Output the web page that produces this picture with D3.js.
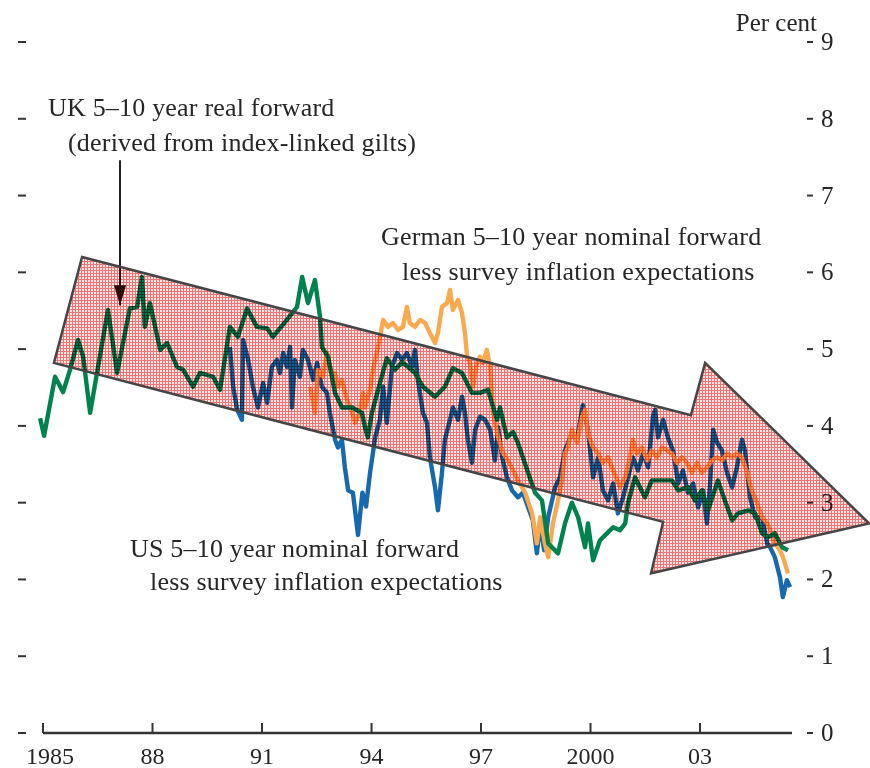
<!DOCTYPE html>
<html>
<head>
<meta charset="utf-8">
<script src="https://cdn.jsdelivr.net/npm/d3@7"></script>
<style>
  body { margin: 0; background: #fff; }
  svg { display: block; }
  .lbl { font-family: "Liberation Serif", "DejaVu Serif", serif; fill: #262626; }
</style>
</head>
<body>
<svg id="chart" width="870" height="768"></svg>
<script>
// chart data: [year, per cent]
var yTicks = [0, 1, 2, 3, 4, 5, 6, 7, 8, 9];
var xTickYears = [1985, 1988, 1991, 1994, 1997, 2000, 2003];
var xTickLabels = ["1985", "88", "91", "94", "97", "2000", "03"];

// UK 5-10 year real forward (index-linked gilts)
var ukData = [
  [1984.92, 4.10], [1985.03, 3.87], [1985.33, 4.64], [1985.55, 4.44], [1985.74, 4.73],
  [1985.96, 5.12], [1986.10, 4.90], [1986.29, 4.17], [1986.48, 4.69], [1986.78, 5.51],
  [1987.03, 4.69], [1987.38, 5.53], [1987.58, 5.55], [1987.71, 5.94], [1987.79, 5.29],
  [1987.93, 5.60], [1988.21, 4.99], [1988.40, 5.08], [1988.67, 4.77], [1988.84, 4.73],
  [1989.11, 4.51], [1989.30, 4.69], [1989.66, 4.64], [1989.85, 4.47], [1990.12, 5.29],
  [1990.34, 5.16], [1990.59, 5.53], [1990.86, 5.29], [1991.14, 5.27], [1991.30, 5.16],
  [1991.68, 5.38], [1991.96, 5.55], [1992.10, 5.94], [1992.26, 5.60], [1992.45, 5.90],
  [1992.59, 5.42], [1992.64, 5.03], [1992.81, 4.90], [1993.00, 4.43], [1993.19, 4.24],
  [1993.47, 4.24], [1993.74, 4.17], [1993.82, 3.98], [1993.90, 3.85], [1994.01, 4.17],
  [1994.18, 4.47], [1994.42, 4.88], [1994.64, 4.73], [1994.84, 4.83], [1995.00, 4.77],
  [1995.19, 4.69], [1995.41, 4.51], [1995.74, 4.38], [1996.01, 4.51], [1996.23, 4.75],
  [1996.48, 4.69], [1996.75, 4.43], [1996.97, 4.43], [1997.19, 4.47], [1997.44, 4.08],
  [1997.52, 4.24], [1997.71, 3.85], [1997.88, 3.92], [1998.01, 3.78], [1998.29, 3.39],
  [1998.48, 3.13], [1998.67, 3.03], [1998.84, 2.47], [1999.11, 2.34], [1999.30, 2.73],
  [1999.49, 3.00], [1999.66, 2.81], [1999.85, 2.42], [1999.93, 2.73], [2000.07, 2.25],
  [2000.26, 2.51], [2000.45, 2.60], [2000.62, 2.68], [2000.81, 2.64], [2000.95, 2.73],
  [2001.03, 3.00], [2001.22, 3.33], [2001.49, 3.07], [2001.68, 3.29], [2001.96, 3.29],
  [2002.23, 3.29], [2002.40, 3.16], [2002.67, 3.20], [2002.86, 3.03], [2003.05, 3.16],
  [2003.22, 2.90], [2003.49, 3.29], [2003.68, 3.03], [2003.88, 2.77], [2004.04, 2.86],
  [2004.32, 2.90], [2004.51, 2.86], [2004.70, 2.60], [2004.86, 2.55], [2005.05, 2.60],
  [2005.25, 2.42], [2005.41, 2.38]
];

// US 5-10 year nominal forward less survey inflation expectations
var usData = [
  [1990.12, 5.03], [1990.21, 4.51], [1990.32, 4.21], [1990.45, 4.08], [1990.48, 5.12],
  [1990.62, 4.86], [1990.75, 4.51], [1990.89, 4.24], [1991.03, 4.56], [1991.14, 4.30],
  [1991.27, 4.77], [1991.41, 4.86], [1991.49, 4.69], [1991.58, 4.95], [1991.68, 4.77],
  [1991.77, 5.03], [1991.82, 4.24], [1991.90, 4.86], [1992.04, 4.64], [1992.12, 4.99],
  [1992.26, 4.86], [1992.40, 4.60], [1992.51, 4.82], [1992.64, 4.51], [1992.78, 4.43],
  [1992.86, 4.17], [1993.00, 3.82], [1993.08, 3.72], [1993.19, 3.82], [1993.27, 3.46],
  [1993.36, 3.16], [1993.49, 3.13], [1993.63, 2.58], [1993.75, 3.13], [1993.85, 2.95],
  [1993.96, 3.39], [1994.10, 3.85], [1994.23, 4.08], [1994.32, 4.51], [1994.42, 4.04],
  [1994.56, 4.77], [1994.70, 4.95], [1994.84, 4.86], [1994.97, 4.95], [1995.11, 4.77],
  [1995.19, 4.99], [1995.27, 4.60], [1995.41, 4.17], [1995.52, 4.04], [1995.60, 3.59],
  [1995.74, 3.20], [1995.82, 2.90], [1995.93, 3.39], [1996.01, 3.82], [1996.15, 4.08],
  [1996.23, 4.24], [1996.37, 4.08], [1996.48, 4.38], [1996.56, 4.17], [1996.64, 3.82],
  [1996.75, 3.52], [1996.84, 3.95], [1996.97, 4.12], [1997.11, 4.08], [1997.25, 3.95],
  [1997.38, 3.55], [1997.47, 3.98], [1997.58, 3.59], [1997.71, 3.33], [1997.85, 3.16],
  [1998.01, 3.07], [1998.15, 3.13], [1998.29, 2.94], [1998.42, 2.77], [1998.53, 2.34],
  [1998.62, 2.73], [1998.73, 2.38], [1998.84, 2.81], [1999.03, 3.20], [1999.16, 3.33],
  [1999.30, 3.68], [1999.49, 3.90], [1999.63, 3.82], [1999.79, 4.27], [1999.93, 3.95],
  [2000.07, 3.33], [2000.21, 3.59], [2000.34, 3.16], [2000.48, 3.03], [2000.62, 3.25],
  [2000.75, 2.86], [2000.89, 3.07], [2001.03, 3.33], [2001.16, 3.59], [2001.30, 3.42],
  [2001.44, 3.64], [2001.58, 3.46], [2001.71, 4.12], [2001.77, 4.21], [2001.85, 3.85],
  [2001.99, 4.08], [2002.12, 3.85], [2002.26, 3.68], [2002.40, 3.25], [2002.53, 3.42],
  [2002.67, 3.13], [2002.81, 3.25], [2002.95, 2.94], [2003.08, 3.16], [2003.19, 2.73],
  [2003.27, 3.20], [2003.36, 3.95], [2003.47, 3.78], [2003.60, 3.68], [2003.74, 3.39],
  [2003.88, 3.20], [2004.01, 3.46], [2004.15, 3.82], [2004.23, 3.68], [2004.37, 3.07],
  [2004.51, 2.81], [2004.70, 2.81], [2004.84, 2.47], [2004.92, 2.42], [2005.05, 2.29],
  [2005.19, 2.03], [2005.27, 1.77], [2005.38, 1.99], [2005.47, 1.90]
];

// German 5-10 year nominal forward less survey inflation expectations
var deData = [
  [1992.32, 4.51], [1992.37, 4.38], [1992.45, 4.17], [1992.53, 4.73], [1992.67, 4.64],
  [1992.78, 4.95], [1992.92, 4.64], [1993.00, 4.69], [1993.08, 4.51], [1993.19, 4.60],
  [1993.33, 4.34], [1993.47, 4.17], [1993.55, 4.04], [1993.68, 4.17], [1993.77, 4.43],
  [1993.82, 4.24], [1993.96, 4.47], [1994.04, 4.73], [1994.18, 5.03], [1994.32, 5.38],
  [1994.45, 5.29], [1994.59, 5.34], [1994.73, 5.25], [1994.86, 5.29], [1994.97, 5.55],
  [1995.05, 5.34], [1995.19, 5.29], [1995.33, 5.38], [1995.47, 5.34], [1995.60, 5.21],
  [1995.74, 5.08], [1995.82, 5.21], [1995.93, 5.55], [1996.07, 5.60], [1996.15, 5.77],
  [1996.23, 5.51], [1996.37, 5.64], [1996.48, 5.47], [1996.56, 5.21], [1996.62, 4.90],
  [1996.70, 4.82], [1996.78, 4.51], [1996.89, 4.82], [1996.97, 4.90], [1997.05, 4.82],
  [1997.16, 4.99], [1997.25, 4.77], [1997.33, 4.17], [1997.47, 3.85], [1997.60, 3.65],
  [1997.74, 3.55], [1997.88, 3.42], [1998.01, 3.29], [1998.21, 3.13], [1998.40, 2.86],
  [1998.53, 2.47], [1998.62, 2.81], [1998.75, 2.47], [1998.84, 2.29], [1998.97, 2.73],
  [1999.11, 3.03], [1999.22, 3.29], [1999.30, 3.64], [1999.38, 3.72], [1999.49, 3.95],
  [1999.63, 3.78], [1999.77, 4.12], [1999.85, 4.21], [1999.93, 3.90], [2000.07, 3.72],
  [2000.21, 3.64], [2000.34, 3.52], [2000.48, 3.59], [2000.62, 3.42], [2000.81, 3.20],
  [2000.95, 3.33], [2001.08, 3.59], [2001.16, 3.82], [2001.27, 3.64], [2001.41, 3.72],
  [2001.55, 3.55], [2001.68, 3.68], [2001.82, 3.59], [2001.96, 3.72], [2002.10, 3.68],
  [2002.23, 3.64], [2002.37, 3.52], [2002.51, 3.59], [2002.64, 3.52], [2002.78, 3.39],
  [2002.92, 3.52], [2003.05, 3.39], [2003.19, 3.46], [2003.33, 3.55], [2003.47, 3.59],
  [2003.60, 3.55], [2003.74, 3.64], [2003.88, 3.59], [2004.01, 3.64], [2004.15, 3.59],
  [2004.29, 3.39], [2004.42, 3.16], [2004.56, 3.00], [2004.70, 2.81], [2004.84, 2.73],
  [2004.97, 2.60], [2005.05, 2.47], [2005.19, 2.38], [2005.27, 2.29], [2005.41, 2.08]
];

// big downward trend arrow, corners in [year, per cent]
var trendArrow = [
  [1986.07, 6.20], [2002.75, 4.14], [2003.14, 4.82], [2007.63, 2.73],
  [2001.66, 2.08], [2001.99, 2.75], [1985.30, 4.82]
];
// pointer from the UK label
var ukPointer = [[1987.11, 7.46], [1987.11, 5.57]];

var svg = d3.select("#chart");

var x = d3.scaleLinear().domain([1985, 2005.52]).range([43, 792]);
var y = d3.scaleLinear().domain([0, 9]).range([733, 42]);

// hatch pattern for the arrow
var defs = svg.append("defs");
var pat = defs.append("pattern")
  .attr("id", "hatch")
  .attr("patternUnits", "userSpaceOnUse")
  .attr("width", 3).attr("height", 3);
pat.append("rect").attr("width", 3).attr("height", 3).attr("fill", "#fde6e6");
pat.append("path").attr("d", "M0,0.5H3M0.5,0V3")
  .attr("stroke", "#f17474").attr("stroke-width", 1);

var markerHead = defs.append("marker")
  .attr("id", "head")
  .attr("viewBox", "0 0 12 20")
  .attr("refX", 6).attr("refY", 20)
  .attr("markerWidth", 12).attr("markerHeight", 20)
  .attr("markerUnits", "userSpaceOnUse")
  .attr("orient", "0");
markerHead.append("path").attr("d", "M0,0L12,0L6,20Z").attr("fill", "#2a1010");

// left dashes
svg.append("g").selectAll("line")
  .data(yTicks).enter().append("line")
  .attr("x1", 18).attr("x2", 26)
  .attr("y1", function(d){ return y(d); })
  .attr("y2", function(d){ return y(d); })
  .attr("stroke", "#333").attr("stroke-width", 2);

// right axis: dash + number
var right = svg.append("g")
  .selectAll("g")
  .data(yTicks).enter().append("g");
right.append("line")
  .attr("x1", 807).attr("x2", 813)
  .attr("y1", function(d){ return y(d); })
  .attr("y2", function(d){ return y(d); })
  .attr("stroke", "#333").attr("stroke-width", 2);
right.append("text")
  .attr("class", "lbl")
  .attr("x", 821)
  .attr("y", function(d){ return y(d) + 8; })
  .style("font-size", "25px")
  .text(function(d){ return d; });

svg.append("text").attr("class", "lbl")
  .attr("x", 817).attr("y", 31)
  .attr("text-anchor", "end")
  .style("font-size", "25px")
  .text("Per cent");

// bottom axis
svg.append("line")
  .attr("x1", x(1985)).attr("x2", x(2005.52))
  .attr("y1", y(0)).attr("y2", y(0))
  .attr("stroke", "#333").attr("stroke-width", 2.5);

var xt = svg.append("g").selectAll("g")
  .data(xTickYears).enter().append("g");
xt.append("line")
  .attr("x1", function(d){ return x(d); })
  .attr("x2", function(d){ return x(d); })
  .attr("y1", y(0) - 10).attr("y2", y(0))
  .attr("stroke", "#333").attr("stroke-width", 2);
xt.append("text")
  .attr("class", "lbl")
  .attr("x", function(d, i){ return x(d) + (i === 0 ? 7 : 0); })
  .attr("y", 764)
  .attr("text-anchor", "middle")
  .style("font-size", "24px")
  .text(function(d, i){ return xTickLabels[i]; });

// series
var line = d3.line()
  .x(function(d){ return x(d[0]); })
  .y(function(d){ return y(d[1]); });

var series = [
  { data: usData, color: "#1769ad" },
  { data: deData, color: "#fba94f" },
  { data: ukData, color: "#00824e" }
];

svg.append("g").selectAll("path")
  .data(series).enter().append("path")
  .attr("d", function(d){ return line(d.data); })
  .attr("fill", "none")
  .attr("stroke", function(d){ return d.color; })
  .attr("stroke-width", 4.4)
  .attr("stroke-linejoin", "round");

// pointer line for UK label
svg.append("line")
  .attr("x1", x(ukPointer[0][0])).attr("y1", y(ukPointer[0][1]))
  .attr("x2", x(ukPointer[1][0])).attr("y2", y(ukPointer[1][1]))
  .attr("stroke", "#222").attr("stroke-width", 2)
  .attr("marker-end", "url(#head)");

// trend arrow on top, multiplied over the lines
var arrowPath = d3.line()
  .x(function(d){ return x(d[0]); })
  .y(function(d){ return y(d[1]); })(trendArrow) + "Z";
svg.append("path")
  .attr("d", arrowPath)
  .attr("fill", "url(#hatch)")
  .style("mix-blend-mode", "multiply");
svg.append("path")
  .attr("d", arrowPath)
  .attr("fill", "none")
  .attr("stroke", "#454545").attr("stroke-width", 2.5)
  .attr("stroke-linejoin", "miter");

// annotations
function note(px, py, str) {
  svg.append("text").attr("class", "lbl")
    .attr("x", px).attr("y", py)
    .style("font-size", "26px")
    .style("letter-spacing", "0.2px")
    .text(str);
}
note(48, 116, "UK 5\u201310 year real forward");
note(68, 151, "(derived from index-linked gilts)");
note(381, 245, "German 5\u201310 year nominal forward");
note(402, 280, "less survey inflation expectations");
note(130, 557, "US 5\u201310 year nominal forward");
note(150, 590, "less survey inflation expectations");
</script>
</body>
</html>
